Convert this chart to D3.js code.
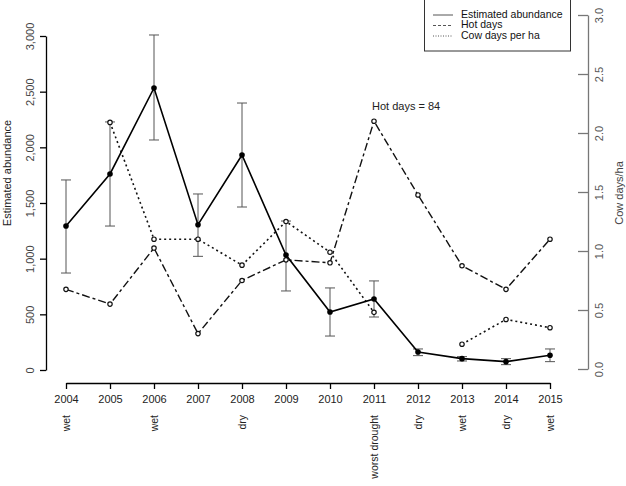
<!DOCTYPE html>
<html><head><meta charset="utf-8">
<script src="https://cdn.jsdelivr.net/npm/d3@7"></script>
<style>body{margin:0;background:#fff}svg{display:block}text{font-family:"Liberation Sans",Arial,sans-serif}</style>
</head><body><svg id="c" width="626" height="486"></svg>
<script>
const years = [2004,2005,2006,2007,2008,2009,2010,2011,2012,2013,2014,2015];
const weather = ["wet","","wet","","dry","","","worst drought","dry","wet","dry","wet"];
const abundance = [1293,1761,2533,1305,1931,1033,521,638,162,102,75,132];
const abundLow  = [871,1293,2066,1021,1464,710,305,476,129,81,48,75];
const abundHigh = [1707,2228,3009,1581,2398,1338,737,800,189,120,102,189];
const hotDays = [27,22,41,12,30,37,36,84,59,35,27,44];
const cowDays = [null,2.09,1.10,1.10,0.88,1.25,0.99,0.48,null,0.21,0.42,0.35];
const leftTicks = [0,500,1000,1500,2000,2500,3000];
const rightTicks = [0,0.5,1,1.5,2,2.5,3];
const legendItems = [["Estimated abundance",null],["Hot days","3,2"],["Cow days per ha","1,1.5"]];

const svg = d3.select("#c");
const x = d3.scaleLinear().domain([2004,2015]).range([66,550]);
const yL = d3.scaleLinear().domain([0,3000]).range([370,36]);
const yR = d3.scaleLinear().domain([0,3]).range([369,15]);
const yH = d3.scaleLinear().domain([0,120]).range([369,15]);

// x axis
const gx = svg.append("g").attr("transform","translate(0,383)")
  .call(d3.axisBottom(x).tickValues(years).tickFormat(d3.format("d")).tickSize(6).tickSizeOuter(0));
gx.select(".domain").attr("stroke","#000").attr("stroke-width",1.3);
gx.selectAll(".tick line").attr("stroke","#000").attr("stroke-width",1.3);
gx.selectAll(".tick text").attr("font-size",11).attr("fill","#222").attr("dy",null).attr("y",20);
svg.append("g").selectAll("text").data(years).join("text")
  .attr("transform",(d,i)=>`translate(${x(d)+1},415) rotate(-90)`)
  .attr("text-anchor","end").attr("dominant-baseline","middle")
  .attr("font-size",10.5).attr("fill","#222").text((d,i)=>weather[i]);

// left axis
const gl = svg.append("g").attr("transform","translate(46,0)")
  .call(d3.axisLeft(yL).tickValues(leftTicks).tickFormat(d3.format(",")).tickSize(6).tickSizeOuter(0));
gl.select(".domain").attr("stroke","#000").attr("stroke-width",1.3);
gl.selectAll(".tick line").attr("stroke","#000").attr("stroke-width",1.3);
gl.selectAll(".tick text").attr("font-size",11).attr("fill","#444")
  .attr("x",null).attr("dy",null).attr("text-anchor","middle").attr("dominant-baseline","middle")
  .attr("transform","translate(-15,0) rotate(-90)");
svg.append("text").attr("transform","translate(8,173) rotate(-90)")
  .attr("text-anchor","middle").attr("dominant-baseline","middle")
  .attr("font-size",11).attr("fill","#222").text("Estimated abundance");

// right axis (ticks inward)
const gr = svg.append("g").attr("transform","translate(588,0)")
  .call(d3.axisLeft(yR).tickValues(rightTicks).tickFormat(d3.format(".1f")).tickSize(10).tickSizeOuter(0));
gr.select(".domain").attr("stroke","#777").attr("stroke-width",1.3);
gr.selectAll(".tick line").attr("stroke","#777").attr("stroke-width",1.3);
gr.selectAll(".tick text").attr("font-size",11).attr("fill","#555")
  .attr("x",null).attr("dy",null).attr("text-anchor","middle").attr("dominant-baseline","middle")
  .attr("transform","translate(12,0) rotate(-90)");
svg.append("text").attr("transform","translate(620,193) rotate(-90)")
  .attr("text-anchor","middle").attr("dominant-baseline","middle")
  .attr("font-size",11).attr("fill","#444").text("Cow days/ha");

// error bars
const eb = svg.append("g").attr("stroke","#555").attr("stroke-width",1);
years.forEach((yr,i)=>{
  eb.append("line").attr("x1",x(yr)).attr("x2",x(yr)).attr("y1",yL(abundLow[i])).attr("y2",yL(abundHigh[i]));
  eb.append("line").attr("x1",x(yr)-5).attr("x2",x(yr)+5).attr("y1",yL(abundLow[i])).attr("y2",yL(abundLow[i]));
  eb.append("line").attr("x1",x(yr)-5).attr("x2",x(yr)+5).attr("y1",yL(abundHigh[i])).attr("y2",yL(abundHigh[i]));
});

// lines
const lineH = d3.line().x((d,i)=>x(years[i])).y(d=>yH(d));
svg.append("path").attr("d",lineH(hotDays)).attr("fill","none").attr("stroke","#111")
  .attr("stroke-width",1.4).attr("stroke-dasharray","8,3,3,3");
const lineC = d3.line().defined(d=>d!=null).x((d,i)=>x(years[i])).y(d=>yR(d));
svg.append("path").attr("d",lineC(cowDays)).attr("fill","none").attr("stroke","#111")
  .attr("stroke-width",1.6).attr("stroke-dasharray","2,3");
const lineA = d3.line().x((d,i)=>x(years[i])).y(d=>yL(d));
svg.append("path").attr("d",lineA(abundance)).attr("fill","none").attr("stroke","#000").attr("stroke-width",1.6);

// points
svg.append("g").selectAll("circle").data(hotDays).join("circle")
  .attr("cx",(d,i)=>x(years[i])).attr("cy",d=>yH(d)).attr("r",2.2)
  .attr("fill","#fff").attr("stroke","#111").attr("stroke-width",1.2);
svg.append("g").selectAll("circle").data(cowDays.map((d,i)=>[years[i],d]).filter(d=>d[1]!=null)).join("circle")
  .attr("cx",d=>x(d[0])).attr("cy",d=>yR(d[1])).attr("r",2.2)
  .attr("fill","#fff").attr("stroke","#111").attr("stroke-width",1.2);
svg.append("g").selectAll("circle").data(abundance).join("circle")
  .attr("cx",(d,i)=>x(years[i])).attr("cy",d=>yL(d)).attr("r",2.8)
  .attr("fill","#000");

// annotation
const iMax = hotDays.indexOf(d3.max(hotDays));
svg.append("text").attr("x",x(years[iMax])-2).attr("y",yH(hotDays[iMax])-11)
  .attr("font-size",11).attr("fill","#222").text("Hot days = " + hotDays[iMax]);

// legend
const lg = svg.append("g");
lg.append("rect").attr("x",424.5).attr("y",-1).attr("width",146).attr("height",52)
  .attr("fill","#fff").attr("stroke","#333").attr("stroke-width",1);
legendItems.forEach((it,i)=>{
  const yy = 15 + i*10.5;
  const l = lg.append("line").attr("x1",433).attr("x2",453).attr("y1",yy).attr("y2",yy)
    .attr("stroke","#555").attr("stroke-width",1);
  if(it[1]) l.attr("stroke-dasharray",it[1]);
  lg.append("text").attr("x",461).attr("y",yy).attr("dominant-baseline","middle")
    .attr("font-size",10.5).attr("fill","#111").text(it[0]);
});
</script></body></html>
